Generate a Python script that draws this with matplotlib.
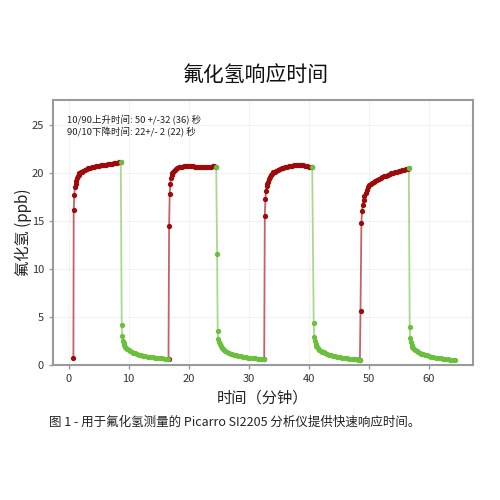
import matplotlib
matplotlib.use("Agg")
import matplotlib.pyplot as plt

plt.rcParams['font.family'] = ['Noto Sans CJK SC', 'DejaVu Sans']

# ---- data ----
r1_t = [0.8, 0.85, 0.95, 1.05, 1.15, 1.25, 1.35, 1.5, 1.65, 1.8, 2.0, 2.2, 2.45, 2.7, 3.0, 3.3, 3.6, 3.9, 4.2, 4.5, 4.8, 5.1, 5.4, 5.7, 6.0, 6.3, 6.6, 6.9, 7.2, 7.5, 7.8, 8.1, 8.4, 8.7]
r1_v = [0.7, 16.1, 17.7, 18.5, 18.9, 19.2, 19.45, 19.65, 19.8, 19.95, 20.05, 20.15, 20.25, 20.35, 20.45, 20.5, 20.55, 20.6, 20.65, 20.7, 20.72, 20.75, 20.78, 20.82, 20.85, 20.88, 20.92, 20.95, 20.98, 21.0, 21.03, 21.06, 21.1, 21.12]
g1_t = [8.7, 8.85, 8.95, 9.05, 9.15, 9.3, 9.45, 9.6, 9.8, 10.0, 10.25, 10.5, 10.8, 11.1, 11.4, 11.7, 12.0, 12.4, 12.8, 13.2, 13.6, 14.0, 14.4, 14.8, 15.2, 15.6, 16.0, 16.3, 16.6]
g1_v = [21.12, 4.2, 3.0, 2.5, 2.25, 2.05, 1.9, 1.78, 1.65, 1.55, 1.45, 1.36, 1.28, 1.2, 1.13, 1.08, 1.03, 0.97, 0.92, 0.88, 0.84, 0.8, 0.77, 0.74, 0.71, 0.69, 0.67, 0.65, 0.63]

r2_t = [16.65, 16.75, 16.85, 16.95, 17.05, 17.15, 17.25, 17.4, 17.55, 17.7, 17.9, 18.1, 18.35, 18.6, 18.9, 19.2, 19.5, 19.8, 20.1, 20.4, 20.7, 21.0, 21.3, 21.6, 21.9, 22.2, 22.5, 22.8, 23.1, 23.4, 23.7, 24.0, 24.3, 24.6]
r2_v = [0.63, 14.5, 17.8, 18.9, 19.5, 19.75, 19.95, 20.1, 20.25, 20.35, 20.45, 20.52, 20.58, 20.63, 20.67, 20.7, 20.72, 20.72, 20.7, 20.7, 20.68, 20.66, 20.67, 20.66, 20.64, 20.62, 20.6, 20.58, 20.58, 20.6, 20.65, 20.72, 20.75, 20.65]
g2_t = [24.6, 24.75, 24.85, 24.95, 25.05, 25.2, 25.35, 25.5, 25.7, 25.9, 26.15, 26.4, 26.7, 27.0, 27.3, 27.6, 27.9, 28.3, 28.7, 29.1, 29.5, 29.9, 30.3, 30.7, 31.1, 31.5, 31.9, 32.2, 32.5]
g2_v = [20.65, 11.6, 3.5, 2.7, 2.4, 2.15, 1.95, 1.8, 1.67, 1.56, 1.45, 1.36, 1.27, 1.19, 1.12, 1.06, 1.01, 0.95, 0.9, 0.85, 0.81, 0.77, 0.74, 0.71, 0.68, 0.66, 0.64, 0.62, 0.6]

r3_t = [32.6, 32.7, 32.8, 32.9, 33.0, 33.1, 33.2, 33.35, 33.5, 33.7, 33.9, 34.1, 34.35, 34.6, 34.9, 35.2, 35.5, 35.8, 36.1, 36.4, 36.7, 37.0, 37.3, 37.6, 37.9, 38.2, 38.5, 38.8, 39.1, 39.4, 39.7, 40.0, 40.3, 40.6]
r3_v = [0.6, 15.5, 17.3, 18.1, 18.6, 18.9, 19.1, 19.35, 19.55, 19.75, 19.9, 20.05, 20.15, 20.25, 20.35, 20.45, 20.5, 20.55, 20.6, 20.65, 20.7, 20.72, 20.75, 20.78, 20.82, 20.85, 20.88, 20.85, 20.8, 20.75, 20.7, 20.65, 20.62, 20.6]
g3_t = [40.6, 40.85, 40.95, 41.05, 41.15, 41.3, 41.45, 41.6, 41.8, 42.0, 42.25, 42.5, 42.8, 43.1, 43.4, 43.7, 44.0, 44.4, 44.8, 45.2, 45.6, 46.0, 46.4, 46.8, 47.2, 47.6, 48.0, 48.3, 48.55]
g3_v = [20.6, 4.4, 2.95, 2.45, 2.2, 2.0, 1.85, 1.72, 1.6, 1.5, 1.4, 1.31, 1.23, 1.15, 1.08, 1.02, 0.97, 0.91, 0.86, 0.81, 0.77, 0.73, 0.7, 0.67, 0.64, 0.61, 0.58, 0.55, 0.52]

r4_t = [48.55, 48.65, 48.8, 48.9, 49.0, 49.15, 49.3, 49.5, 49.7, 49.9, 50.1, 50.35, 50.6, 50.85, 51.1, 51.4, 51.7, 52.0, 52.3, 52.6, 52.9, 53.2, 53.5, 53.8, 54.1, 54.4, 54.7, 55.0, 55.3, 55.6, 55.9, 56.2, 56.5, 56.7]
r4_v = [0.52, 5.6, 14.8, 16.0, 16.7, 17.2, 17.6, 17.95, 18.25, 18.5, 18.7, 18.85, 18.98, 19.1, 19.2, 19.3, 19.4, 19.5, 19.57, 19.65, 19.72, 19.8, 19.87, 19.95, 20.0, 20.05, 20.1, 20.17, 20.22, 20.28, 20.34, 20.4, 20.46, 20.5]
g4_t = [56.7, 56.85, 56.95, 57.05, 57.15, 57.3, 57.45, 57.6, 57.8, 58.0, 58.25, 58.5, 58.8, 59.1, 59.4, 59.7, 60.0, 60.4, 60.8, 61.2, 61.6, 62.0, 62.4, 62.8, 63.2, 63.6, 64.0, 64.4]
g4_v = [20.5, 4.0, 2.8, 2.35, 2.1, 1.92, 1.78, 1.66, 1.55, 1.45, 1.35, 1.27, 1.19, 1.11, 1.05, 0.99, 0.94, 0.88, 0.83, 0.78, 0.74, 0.7, 0.66, 0.63, 0.6, 0.57, 0.54, 0.51]

rise_segments = [(r1_t, r1_v), (r2_t, r2_v), (r3_t, r3_v), (r4_t, r4_v)]
fall_segments = [(g1_t, g1_v), (g2_t, g2_v), (g3_t, g3_v), (g4_t, g4_v)]

title = "氟化氢响应时间"
xlabel = "时间（分钟）"
ylabel = "氟化氢 (ppb)"
note = "10/90上升时间: 50 +/-32 (36) 秒\n90/10下降时间: 22+/- 2 (22) 秒"
caption = "图 1 - 用于氟化氢测量的 Picarro SI2205 分析仪提供快速响应时间。"
xticks = [0, 10, 20, 30, 40, 50, 60]
yticks = [0, 5, 10, 15, 20, 25]

# ---- figure ----
fig = plt.figure(figsize=(5, 5), dpi=100)
ax = fig.add_axes([0.106, 0.27, 0.84, 0.53])

red_line = '#c8606a'
red_mk = '#9e0a0a'
green_line = '#a9d98c'
green_mk = '#6abf3c'

for t, v in rise_segments:
    ax.plot(t, v, '-', color=red_line, lw=1.3, zorder=2)
    ax.plot(t, v, 'o', color=red_mk, ms=3.8, mew=0, zorder=3)
for t, v in fall_segments:
    ax.plot(t, v, '-', color=green_line, lw=1.3, zorder=2)
    ax.plot(t, v, 'o', color=green_mk, ms=3.8, mew=0, zorder=3)

ax.set_xlim(-2.6, 67.4)
ax.set_ylim(0, 27.6)
ax.set_xticks(xticks)
ax.set_yticks(yticks)
ax.grid(True, color='#f2f2f2', lw=0.8, zorder=0)
ax.set_axisbelow(True)
for s in ax.spines.values():
    s.set_color('#9a9a9a')
    s.set_linewidth(1.5)
ax.tick_params(axis='both', colors='#9a9a9a', labelcolor='#333333', labelsize=8, length=3, width=1)

ax.set_xlabel(xlabel, fontsize=11, color='#222222', labelpad=4)
ax.set_ylabel(ylabel, fontsize=11, color='#222222', labelpad=0)

ax.text(0.033, 0.945, note, transform=ax.transAxes, fontsize=6.8, va='top', ha='left',
        color='#222222', linespacing=1.3)

fig.text(0.512, 0.85, title, fontsize=15, ha='center', va='center', color='#111111')
fig.text(0.098, 0.156, caption, fontsize=9, ha='left', va='center', color='#222222')

fig.savefig('out.png', dpi=100)
